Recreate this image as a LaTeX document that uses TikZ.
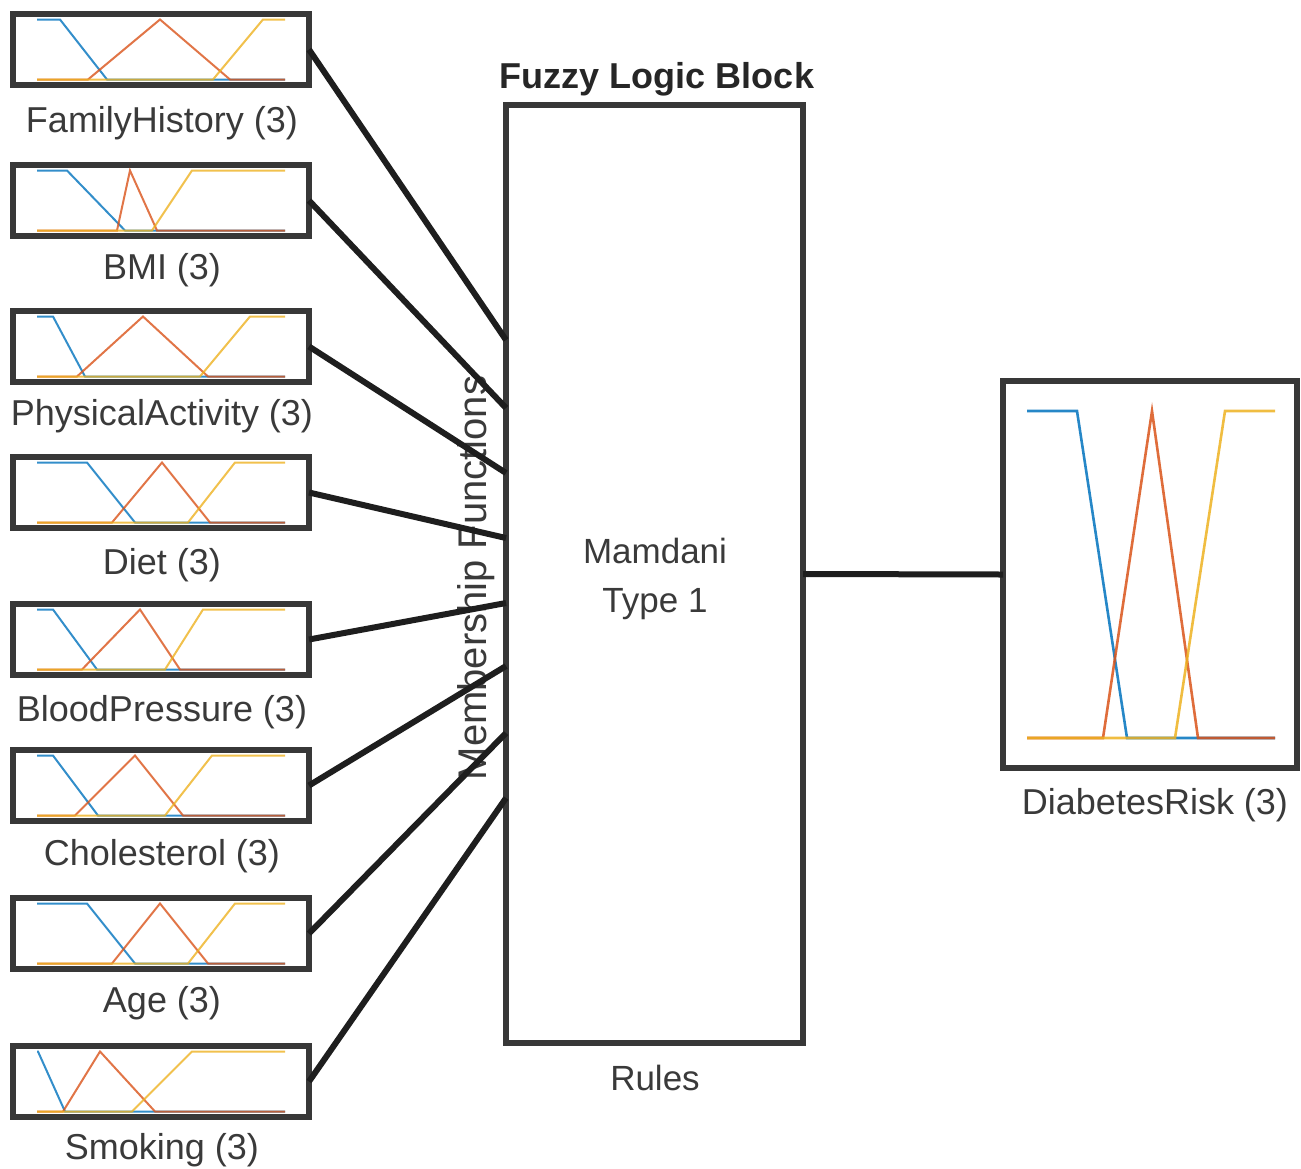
\documentclass[tikz,border=0pt]{standalone}
\usepackage{fontspec}
\setmainfont{Liberation Sans}
\definecolor{boxgray}{HTML}{383838}
\definecolor{wiregray}{HTML}{1E1E1E}
\definecolor{txtgray}{HTML}{3A3A3A}
\definecolor{mblue}{RGB}{0,114,189}
\definecolor{mred}{RGB}{217,83,25}
\definecolor{myellow}{RGB}{237,177,32}
\newcommand\mfplot[9]{%
  \draw[mfline,mblue] (37,{#1-30}) -- (#2,{#1-30}) -- (#3,{#1+30}) -- (285,{#1+30});
  \draw[mfline,mred] (37,{#1+30}) -- (#4,{#1+30}) -- (#5,{#1-30}) -- (#6,{#1+30}) -- (285,{#1+30});
  \draw[mfline,myellow] (37,{#1+30}) -- (#7,{#1+30}) -- (#8,{#1-30}) -- (285,{#1-30});
}
\begin{document}
\begin{tikzpicture}[x=1pt,y=-1pt,
  inbox/.style={draw=boxgray, line width=6pt, minimum width=296pt, minimum height=71pt, inner sep=0pt, outer sep=0pt},
  lbl/.style={text=txtgray, font=\fontsize{35}{42}\selectfont, anchor=base, inner sep=0pt},
  boxlbl/.style={lbl, font=\fontsize{36}{43}\selectfont},
  wire/.style={draw=wiregray, line width=6pt},
  mfline/.style={line width=2pt, opacity=0.8},
  bigline/.style={line width=2.6pt, opacity=0.85}
]
\useasboundingbox (0,0) rectangle (1301,1168);

% central block
\node[draw=boxgray, line width=6pt, minimum width=297pt, minimum height=938pt, inner sep=0pt, outer sep=0pt] (block) at (654.5,574) {};
\node[lbl, font=\fontsize{36}{43}\selectfont\bfseries, text=black!85] (title) at (657,88) {Fuzzy Logic Block};
\node[lbl] (mam) at (655,563) {Mamdani};
\node[lbl] (typ) at (655,612) {Type 1};
\node[lbl] (rules) at (655,1090) {Rules};
\node[text=txtgray, font=\fontsize{40}{48}\selectfont, rotate=90, inner sep=0pt] (mf) at (476,578) {Membership Functions};

% input boxes
\node[inbox] (in1) at (161,49.5) {};
\node[inbox] (in2) at (161,200.5) {};
\node[inbox] (in3) at (161,346.5) {};
\node[inbox] (in4) at (161,492.5) {};
\node[inbox] (in5) at (161,639.5) {};
\node[inbox] (in6) at (161,785.5) {};
\node[inbox] (in7) at (161,933.5) {};
\node[inbox] (in8) at (161,1081.5) {};

\mfplot{49.5}{60}{107}{88}{160}{230}{213}{263}{}
\mfplot{200.5}{67}{125}{117}{130}{157}{152}{192}{}
\mfplot{346.5}{53}{85}{77}{143}{208}{200}{250}{}
\mfplot{492.5}{87}{135}{112}{162}{210}{188}{235}{}
\mfplot{639.5}{53}{97}{82}{140}{180}{165}{203}{}
\mfplot{785.5}{53}{98}{75}{135}{183}{165}{212}{}
\mfplot{933.5}{87}{135}{112}{160}{208}{188}{235}{}
\mfplot{1081.5}{38}{65}{63}{100}{155}{132}{192}{}

\node[boxlbl] (l1) at (162,132) {FamilyHistory (3)};
\node[boxlbl] (l2) at (162,279) {BMI (3)};
\node[boxlbl] (l3) at (162,425) {PhysicalActivity (3)};
\node[boxlbl] (l4) at (162,574) {Diet (3)};
\node[boxlbl] (l5) at (162,721) {BloodPressure (3)};
\node[boxlbl] (l6) at (162,865) {Cholesterol (3)};
\node[boxlbl] (l7) at (162,1012) {Age (3)};
\node[boxlbl] (l8) at (162,1159) {Smoking (3)};

% output box
\node[draw=boxgray, line width=6.5pt, minimum width=294pt, minimum height=387pt, inner sep=0pt, outer sep=0pt] (out) at (1150,574.5) {};
\draw[bigline,mblue] (1027,411) -- (1077,411) -- (1127,738) -- (1275,738);
\draw[bigline,mred] (1027,738) -- (1103,738) -- (1152,411) -- (1198,738) -- (1275,738);
\draw[bigline,myellow] (1027,738) -- (1175,738) -- (1225,411) -- (1275,411);
\node[boxlbl] (lout) at (1155,814) {DiabetesRisk (3)};

% connectors
\coordinate (e1) at (506,340);
\coordinate (e2) at (506,408);
\coordinate (e3) at (506,473);
\coordinate (e4) at (506,538);
\coordinate (e5) at (506,603);
\coordinate (e6) at (506,666);
\coordinate (e7) at (506,733);
\coordinate (e8) at (506,798);
\draw[wire] (in1.east) -- (e1);
\draw[wire] (in2.east) -- (e2);
\draw[wire] (in3.east) -- (e3);
\draw[wire] (in4.east) -- (e4);
\draw[wire] (in5.east) -- (e5);
\draw[wire] (in6.east) -- (e6);
\draw[wire] (in7.east) -- (e7);
\draw[wire] (in8.east) -- (e8);
\draw[wire] (block.east) -- (out.west);
\end{tikzpicture}
\end{document}
